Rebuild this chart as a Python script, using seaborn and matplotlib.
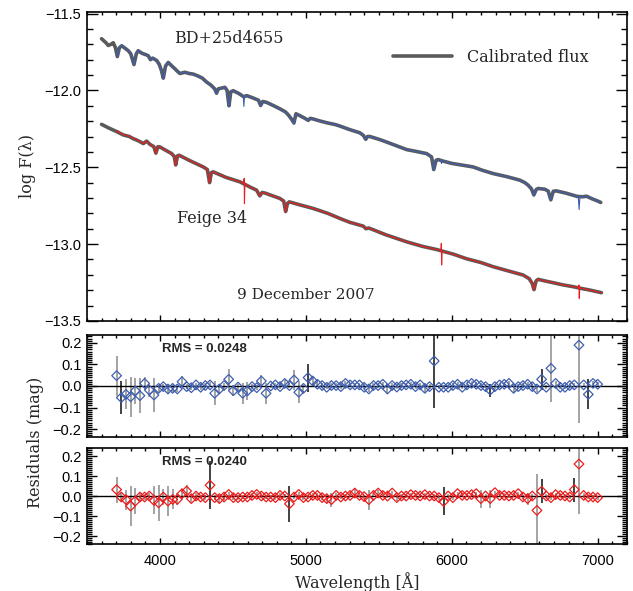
import numpy as np
import matplotlib
matplotlib.use('Agg')
import matplotlib.pyplot as plt
import seaborn as sns
from matplotlib.ticker import MultipleLocator

# ---- spectra ----
# BD+25d4655, calibrated flux (grey) and observed (blue)
bd_cal_wave = [3600, 3630, 3646, 3665, 3680, 3695, 3708, 3722, 3738, 3760,
               3783, 3800, 3822, 3838, 3851, 3870, 3886, 3905, 3920, 3935,
               3950, 3977, 3995, 4010, 4023, 4038, 4057, 4080, 4103, 4120,
               4137, 4171, 4200, 4228, 4260, 4290, 4320, 4350, 4375, 4388,
               4400, 4445, 4460, 4473, 4485, 4502, 4540, 4575, 4594, 4640,
               4675, 4690, 4704, 4731, 4780, 4822, 4860, 4880, 4900, 4918,
               4932, 4960, 4990, 5016, 5030, 5050, 5100, 5150, 5200, 5233,
               5300, 5370, 5393, 5410, 5422, 5438, 5500, 5553, 5620, 5690,
               5760, 5827, 5861, 5876, 5892, 5906, 5940, 6000, 6070, 6146,
               6210, 6283, 6380, 6466, 6500, 6523, 6545, 6562, 6578, 6591,
               6637, 6660, 6678, 6695, 6717, 6780, 6831, 6860, 6899, 6922,
               6960, 7000, 7020]
bd_cal_flux = [-11.664, -11.690, -11.708, -11.700, -11.690, -11.722, -11.780, -11.722, -11.710, -11.725,
               -11.742, -11.762, -11.832, -11.762, -11.742, -11.755, -11.762, -11.768, -11.775, -11.800,
               -11.790, -11.805, -11.830, -11.870, -11.920, -11.842, -11.818, -11.840, -11.860, -11.876,
               -11.890, -11.882, -11.890, -11.894, -11.906, -11.920, -11.946, -11.966, -11.990, -12.018,
               -11.990, -11.980, -12.000, -12.100, -12.010, -12.002, -12.020, -12.042, -12.034, -12.050,
               -12.064, -12.098, -12.072, -12.078, -12.100, -12.120, -12.140, -12.160, -12.185, -12.212,
               -12.152, -12.165, -12.180, -12.195, -12.182, -12.186, -12.200, -12.212, -12.222, -12.232,
               -12.255, -12.276, -12.292, -12.318, -12.300, -12.300, -12.318, -12.336, -12.360, -12.385,
               -12.398, -12.411, -12.433, -12.515, -12.455, -12.450, -12.460, -12.475, -12.486, -12.498,
               -12.520, -12.541, -12.562, -12.584, -12.600, -12.617, -12.640, -12.680, -12.645, -12.638,
               -12.643, -12.655, -12.712, -12.656, -12.654, -12.668, -12.682, -12.690, -12.692, -12.688,
               -12.705, -12.720, -12.729]

bd_obs_wave = [3705, 3708, 3722, 3738, 3760, 3783, 3800, 3822, 3838, 3851,
               3870, 3886, 3905, 3920, 3935, 3950, 3977, 3995, 4010, 4023,
               4038, 4057, 4080, 4103, 4120, 4137, 4171, 4200, 4228, 4260,
               4290, 4320, 4350, 4375, 4388, 4400, 4445, 4460, 4473, 4485,
               4502, 4540, 4571, 4575, 4579, 4594, 4640, 4675, 4690, 4704,
               4731, 4780, 4822, 4860, 4880, 4900, 4918, 4932, 4960, 4990,
               5016, 5030, 5050, 5100, 5150, 5200, 5233, 5300, 5370, 5393,
               5410, 5422, 5438, 5500, 5553, 5620, 5690, 5760, 5827, 5861,
               5876, 5892, 5906, 5925, 5929, 5933, 5940, 6000, 6070, 6146,
               6210, 6283, 6380, 6466, 6500, 6523, 6545, 6562, 6578, 6591,
               6637, 6660, 6678, 6695, 6717, 6780, 6831, 6860, 6866, 6872,
               6878, 6899, 6922, 6960, 7000, 7020]
bd_obs_flux = [-11.735, -11.785, -11.716, -11.704, -11.722, -11.740, -11.760, -11.838, -11.758, -11.740,
               -11.753, -11.762, -11.766, -11.775, -11.802, -11.788, -11.805, -11.830, -11.870, -11.926,
               -11.840, -11.816, -11.840, -11.862, -11.876, -11.890, -11.880, -11.890, -11.894, -11.906,
               -11.920, -11.946, -11.966, -11.990, -12.024, -11.990, -11.980, -12.000, -12.106, -12.010,
               -12.002, -12.020, -12.040, -12.104, -12.043, -12.034, -12.050, -12.064, -12.102, -12.072,
               -12.078, -12.100, -12.120, -12.140, -12.160, -12.185, -12.218, -12.152, -12.165, -12.180,
               -12.197, -12.182, -12.186, -12.200, -12.212, -12.222, -12.232, -12.255, -12.276, -12.292,
               -12.320, -12.300, -12.300, -12.318, -12.336, -12.360, -12.385, -12.398, -12.411, -12.433,
               -12.521, -12.455, -12.450, -12.456, -12.476, -12.458, -12.460, -12.475, -12.486, -12.498,
               -12.520, -12.541, -12.562, -12.584, -12.600, -12.617, -12.640, -12.686, -12.645, -12.638,
               -12.643, -12.655, -12.716, -12.656, -12.654, -12.668, -12.682, -12.690, -12.690, -12.775,
               -12.690, -12.692, -12.688, -12.705, -12.720, -12.729]

# Feige 34, calibrated flux (grey) and observed (red)
fg_cal_wave = [3600, 3650, 3703, 3749, 3790, 3817, 3838, 3860, 3886, 3909,
               3930, 3958, 3972, 3986, 4000, 4040, 4080, 4098, 4108, 4120,
               4132, 4200, 4297, 4325, 4340, 4352, 4365, 4450, 4548, 4620,
               4662, 4684, 4700, 4720, 4822, 4848, 4861, 4874, 4886, 4960,
               5050, 5150, 5233, 5300, 5393, 5412, 5430, 5550, 5690, 5800,
               5895, 6009, 6100, 6200, 6283, 6400, 6488, 6530, 6550, 6563,
               6577, 6591, 6640, 6694, 6760, 6831, 6880, 6950, 7025]
fg_cal_flux = [-12.221, -12.245, -12.268, -12.290, -12.300, -12.314, -12.322, -12.332, -12.346, -12.330,
               -12.350, -12.366, -12.408, -12.366, -12.368, -12.390, -12.411, -12.430, -12.485, -12.426,
               -12.422, -12.455, -12.498, -12.515, -12.600, -12.535, -12.530, -12.565, -12.595, -12.630,
               -12.649, -12.686, -12.664, -12.668, -12.703, -12.720, -12.788, -12.735, -12.725, -12.745,
               -12.768, -12.800, -12.833, -12.858, -12.883, -12.900, -12.895, -12.940, -12.985, -13.015,
               -13.035, -13.065, -13.095, -13.120, -13.147, -13.178, -13.201, -13.225, -13.255, -13.296,
               -13.240, -13.229, -13.240, -13.251, -13.265, -13.277, -13.287, -13.300, -13.316]

fg_obs_wave = [3703, 3712, 3725, 3749, 3790, 3817, 3838, 3860, 3886, 3909,
               3930, 3958, 3972, 3986, 4000, 4040, 4080, 4098, 4108, 4120,
               4132, 4200, 4297, 4325, 4340, 4352, 4365, 4450, 4548, 4574,
               4577, 4579, 4582, 4620, 4662, 4684, 4700, 4720, 4822, 4848,
               4861, 4874, 4886, 4960, 5050, 5150, 5233, 5300, 5393, 5412,
               5430, 5550, 5690, 5800, 5895, 5925, 5928, 5930, 5933, 6009,
               6100, 6200, 6283, 6400, 6488, 6530, 6550, 6563, 6577, 6591,
               6640, 6694, 6760, 6831, 6868, 6871, 6873, 6876, 6950, 7025]
fg_obs_flux = [-12.272, -12.262, -12.276, -12.288, -12.298, -12.312, -12.320, -12.330, -12.346, -12.328,
               -12.350, -12.366, -12.412, -12.366, -12.368, -12.390, -12.411, -12.430, -12.490, -12.426,
               -12.422, -12.455, -12.498, -12.515, -12.604, -12.535, -12.530, -12.565, -12.595, -12.604,
               -12.573, -12.736, -12.606, -12.630, -12.649, -12.688, -12.664, -12.668, -12.703, -12.720,
               -12.792, -12.735, -12.725, -12.745, -12.768, -12.800, -12.833, -12.858, -12.883, -12.900,
               -12.895, -12.940, -12.985, -13.015, -13.035, -13.044, -12.995, -13.136, -13.048, -13.065,
               -13.095, -13.120, -13.147, -13.178, -13.201, -13.225, -13.255, -13.300, -13.240, -13.229,
               -13.240, -13.251, -13.265, -13.277, -13.283, -13.266, -13.353, -13.285, -13.300, -13.316]

# ---- residuals, 32 A bins ----
resid_wave = np.arange(3703, 7000, 32)

bd_resid = [0.048, -0.054, -0.039, -0.050, -0.023, -0.045, 0.012, -0.019, -0.042, -0.011,
            -0.003, -0.014, -0.011, -0.014, 0.020, -0.003, -0.008, 0.005, -0.006, 0.002,
            0.005, -0.034, -0.014, 0.002, 0.031, -0.022, -0.005, -0.034, -0.023, -0.003,
            -0.008, 0.023, -0.034, 0.000, 0.005, -0.003, 0.012, 0.002, 0.028, -0.029,
            -0.011, 0.039, 0.023, 0.008, 0.002, -0.006, 0.002, 0.002, -0.003, 0.012,
            0.005, 0.005, 0.005, -0.006, -0.014, 0.002, 0.002, 0.008, -0.014, 0.002,
            -0.005, 0.002, 0.005, 0.008, -0.003, 0.005, -0.011, -0.003, 0.116, -0.006,
            -0.006, -0.006, 0.002, 0.008, -0.006, 0.005, 0.012, 0.008, 0.002, -0.003,
            -0.019, -0.003, 0.005, 0.008, 0.012, -0.011, -0.003, 0.002, 0.008, -0.003,
            -0.014, 0.031, -0.006, 0.082, 0.012, -0.006, -0.006, 0.002, 0.005, 0.190,
            0.005, -0.039, 0.012, 0.008]
bd_err = [0.093, 0.078, 0.070, 0.093, 0.060, 0.080, 0.030, 0.030, 0.080, 0.015,
          0.012, 0.025, 0.015, 0.015, 0.025, 0.012, 0.012, 0.010, 0.012, 0.010,
          0.012, 0.055, 0.020, 0.010, 0.050, 0.025, 0.012, 0.050, 0.040, 0.012,
          0.012, 0.030, 0.050, 0.010, 0.010, 0.010, 0.015, 0.010, 0.045, 0.050,
          0.015, 0.065, 0.020, 0.010, 0.010, 0.010, 0.010, 0.010, 0.010, 0.012,
          0.010, 0.010, 0.010, 0.010, 0.015, 0.010, 0.010, 0.010, 0.025, 0.010,
          0.010, 0.010, 0.010, 0.010, 0.010, 0.010, 0.015, 0.010, 0.220, 0.010,
          0.010, 0.010, 0.010, 0.010, 0.010, 0.010, 0.010, 0.010, 0.010, 0.010,
          0.030, 0.010, 0.010, 0.010, 0.010, 0.015, 0.010, 0.010, 0.010, 0.010,
          0.015, 0.050, 0.010, 0.155, 0.010, 0.010, 0.010, 0.010, 0.010, 0.360,
          0.010, 0.070, 0.010, 0.010]
bd_dark = [1, 41, 68, 80, 91, 101]   # bins whose error bar is drawn dark

fg_resid = [0.032, -0.005, -0.018, -0.050, -0.025, -0.005, -0.005, 0.000, -0.022, -0.034,
            -0.005, -0.025, -0.017, -0.017, 0.012, 0.025, -0.013, 0.000, -0.005, -0.008,
            0.054, -0.008, -0.013, -0.005, 0.008, -0.008, -0.008, -0.005, -0.005, 0.003,
            0.008, 0.000, -0.005, -0.005, -0.008, 0.003, 0.000, -0.039, -0.005, 0.008,
            -0.008, -0.005, 0.003, 0.003, -0.008, -0.013, -0.018, 0.003, -0.005, 0.000,
            0.003, 0.015, 0.003, -0.003, -0.018, 0.003, 0.015, 0.003, 0.000, 0.015,
            -0.008, 0.000, 0.000, 0.007, 0.003, 0.000, 0.007, 0.000, 0.000, -0.008,
            -0.027, 0.000, -0.008, 0.012, 0.003, 0.003, 0.007, 0.012, -0.013, 0.000,
            -0.013, 0.017, 0.003, 0.003, 0.000, 0.003, 0.012, -0.005, -0.013, 0.000,
            -0.072, 0.024, 0.000, -0.008, 0.007, 0.003, 0.000, -0.005, 0.032, 0.160,
            0.003, -0.005, -0.005, -0.008]
fg_err = [0.065, 0.020, 0.050, 0.100, 0.065, 0.020, 0.015, 0.015, 0.070, 0.090,
          0.040, 0.075, 0.050, 0.030, 0.020, 0.030, 0.015, 0.015, 0.012, 0.012,
          0.120, 0.012, 0.020, 0.015, 0.012, 0.012, 0.012, 0.010, 0.010, 0.010,
          0.010, 0.010, 0.010, 0.010, 0.012, 0.010, 0.010, 0.090, 0.010, 0.010,
          0.010, 0.010, 0.010, 0.010, 0.010, 0.020, 0.035, 0.010, 0.010, 0.010,
          0.010, 0.020, 0.010, 0.010, 0.050, 0.010, 0.015, 0.010, 0.010, 0.010,
          0.015, 0.010, 0.010, 0.010, 0.010, 0.010, 0.010, 0.010, 0.010, 0.010,
          0.070, 0.010, 0.010, 0.010, 0.010, 0.010, 0.010, 0.010, 0.045, 0.010,
          0.045, 0.010, 0.010, 0.010, 0.010, 0.010, 0.010, 0.010, 0.030, 0.010,
          0.180, 0.060, 0.010, 0.010, 0.010, 0.010, 0.010, 0.010, 0.060, 0.250,
          0.010, 0.010, 0.010, 0.010]
fg_dark = [20, 37, 70, 91, 98]

rms_labels = ['RMS = 0.0248', 'RMS = 0.0240']

GREY = '#5a5a5a'
BLUE = '#3f5fae'
RED = '#ee1c1c'
SERIF = ['DejaVu Serif']

sns.set_style('ticks')
plt.rcParams['font.family'] = ['Liberation Sans', 'DejaVu Sans']
plt.rcParams['axes.unicode_minus'] = True

fig = plt.figure(figsize=(6.33, 5.91), dpi=100)
ax = fig.add_axes([0.1374, 0.4569, 0.8531, 0.5228])
ax1 = fig.add_axes([0.1374, 0.2606, 0.8531, 0.1726])
ax2 = fig.add_axes([0.1374, 0.0795, 0.8531, 0.1624])


def frame(a, ylen, yminlen):
    for s in a.spines.values():
        s.set_color('black')
        s.set_linewidth(1.2)
    a.tick_params(which='both', direction='in', top=True, right=True,
                  color='black', width=1.0, labelsize=10.5, labelcolor='black')
    a.tick_params(axis='x', which='major', length=4.5, pad=7)
    a.tick_params(axis='x', which='minor', length=2.5)
    a.tick_params(axis='y', which='major', length=ylen, pad=4)
    a.tick_params(axis='y', which='minor', length=yminlen)
    a.set_xlim(3500, 7200)
    a.xaxis.set_major_locator(MultipleLocator(1000))
    a.xaxis.set_minor_locator(MultipleLocator(100))
    a.set_xlabel('')
    a.set_ylabel('')


# top panel: spectra
sns.lineplot(x=bd_cal_wave, y=bd_cal_flux, ax=ax, color=GREY, lw=2.6, sort=False, estimator=None)
sns.lineplot(x=bd_obs_wave, y=bd_obs_flux, ax=ax, color=BLUE, lw=0.8, sort=False, estimator=None)
sns.lineplot(x=fg_cal_wave, y=fg_cal_flux, ax=ax, color=GREY, lw=2.6, sort=False, estimator=None,
             label='Calibrated flux')
sns.lineplot(x=fg_obs_wave, y=fg_obs_flux, ax=ax, color=RED, lw=0.8, sort=False, estimator=None)
frame(ax, 8, 4)
ax.set_ylim(-13.5, -11.49)
ax.yaxis.set_major_locator(MultipleLocator(0.5))
ax.yaxis.set_minor_locator(MultipleLocator(0.1))
ax.tick_params(axis='x', labelbottom=False)
ax.legend(loc='center left', bbox_to_anchor=(0.566, 0.854), frameon=False,
          borderpad=0, borderaxespad=0, handlelength=3.7, handletextpad=0.95,
          prop={'family': SERIF, 'size': 11.5})
ax.text(0.262, 0.913, 'BD+25d4655', transform=ax.transAxes, ha='center', va='center',
        family=SERIF, fontsize=11.5)
ax.text(0.231, 0.333, 'Feige 34', transform=ax.transAxes, ha='center', va='center',
        family=SERIF, fontsize=11.5)
ax.text(0.4056, 0.084, '9 December 2007', transform=ax.transAxes, ha='center', va='center',
        family=SERIF, fontsize=11)
ax.set_ylabel('log F(\u03bb)', family=SERIF, fontsize=11.5)
ax.yaxis.set_label_coords(-0.095, 0.5)

# residual panels
panels = [(ax1, bd_resid, bd_err, bd_dark, BLUE, 0.237, 0.863, rms_labels[0]),
          (ax2, fg_resid, fg_err, fg_dark, RED, 0.24, 0.854, rms_labels[1])]
for a, res, err, dark, col, lim, ty, lab in panels:
    res = np.array(res)
    err = np.array(err)
    a.errorbar(resid_wave, res, yerr=err, fmt='none', ecolor='#8a8a8a', elinewidth=1.1,
               capsize=0, zorder=2)
    a.errorbar(resid_wave[dark], res[dark], yerr=err[dark], fmt='none', ecolor='#2a2a2a',
               elinewidth=1.1, capsize=0, zorder=2.5)
    a.axhline(0, color='black', lw=1.0, zorder=3)
    sns.scatterplot(x=resid_wave, y=res, ax=a, marker='D', s=24, facecolor='none',
                    edgecolor=col, linewidth=0.9, zorder=4)
    frame(a, 7, 3.5)
    a.set_ylim(-lim, lim)
    a.yaxis.set_major_locator(MultipleLocator(0.1))
    a.yaxis.set_minor_locator(MultipleLocator(0.01))
    a.text(0.2167, ty, lab, transform=a.transAxes, ha='center', va='center',
           fontsize=9.5, fontweight='bold')

ax1.tick_params(axis='x', labelbottom=False)
ax2.set_xlabel('Wavelength [\u00c5]', family=SERIF, fontsize=11.5, labelpad=3)
fig.text(35 / 633, 1 - 442 / 591, 'Residuals (mag)', rotation=90, ha='center', va='center',
         family=SERIF, fontsize=11.5)

fig.savefig('out.png', dpi=100)
